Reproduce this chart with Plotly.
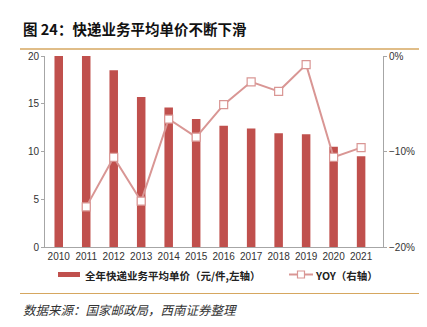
import plotly.graph_objects as go

years = ["2010", "2011", "2012", "2013", "2014", "2015", "2016", "2017", "2018", "2019", "2020", "2021"]
price = [24.6, 20.7, 18.5, 15.7, 14.6, 13.4, 12.7, 12.4, 11.9, 11.8, 10.5, 9.5]
yoy_years = years[1:]
yoy = [-15.8, -10.6, -15.2, -6.6, -8.5, -5.1, -2.7, -3.7, -0.9, -10.6, -9.6]

W, H = 427, 327
L, R, T, B = 45, 383, 56, 247
FONT = "Noto Sans CJK SC, Noto Sans, DejaVu Sans"
NUMFONT = "Liberation Sans, Arial, DejaVu Sans"
BAR_C = "#C0504D"
LINE_C = "#D99694"
GOLD = "#D6A760"


def px(x):
    return (x - L) / (R - L)


def py(y):
    return (B - y) / (B - T)


fig = go.Figure()
fig.add_trace(go.Bar(x=years, y=price, marker=dict(color=BAR_C, line=dict(width=0)),
                     showlegend=False, yaxis="y"))
fig.add_trace(go.Scatter(x=yoy_years, y=yoy, mode="lines+markers", yaxis="y2",
                         line=dict(color=LINE_C, width=2),
                         marker=dict(symbol="square", size=8, color="white",
                                     line=dict(color=LINE_C, width=1.2)),
                         showlegend=False, cliponaxis=False))

axis_common = dict(showgrid=False, zeroline=False, showline=True, linecolor="#A6A6A6",
                   linewidth=1, tickfont=dict(family=NUMFONT, size=10, color="#333"))

fig.update_layout(
    width=W, height=H,
    margin=dict(l=L, r=W - R, t=T, b=H - B, pad=0),
    paper_bgcolor="white", plot_bgcolor="white",
    bargap=0.69,
    xaxis=dict(**axis_common, ticks="", type="category"),
    yaxis=dict(**axis_common, range=[0, 20], dtick=5, ticks="outside", ticklen=3,
               tickcolor="#A6A6A6"),
    yaxis2=dict(**axis_common, range=[-20, 0], dtick=10, ticksuffix="%", overlaying="y",
                side="right", ticks="outside", ticklen=3, tickcolor="#A6A6A6"),
    font=dict(family=FONT),
)

shapes = [
    dict(type="line", xref="paper", yref="paper", x0=px(20), x1=px(419), y0=py(49), y1=py(49),
         line=dict(color=GOLD, width=1.5)),
    dict(type="line", xref="paper", yref="paper", x0=px(20), x1=px(419), y0=py(293.5), y1=py(293.5),
         line=dict(color=GOLD, width=1.2)),
    dict(type="rect", xref="paper", yref="paper", x0=px(58), x1=px(80), y0=py(277), y1=py(272),
         fillcolor=BAR_C, line=dict(width=0)),
    dict(type="line", xref="paper", yref="paper", x0=px(289), x1=px(313), y0=py(274.5), y1=py(274.5),
         line=dict(color=LINE_C, width=2)),
    dict(type="rect", xref="paper", yref="paper", x0=px(297.5), x1=px(304.5), y0=py(278), y1=py(271),
         fillcolor="white", line=dict(color=LINE_C, width=1.2)),
]
fig.update_layout(shapes=shapes)

annots = [
    dict(text="<b>图 24：快递业务平均单价不断下滑</b>", x=px(21), y=py(28.5), xanchor="left", yanchor="middle",
         font=dict(size=14.5, color="#111", family=FONT)),
    dict(text="<b>全年快递业务平均单价（元/件,左轴）</b>", x=px(83), y=py(275), xanchor="left", yanchor="middle",
         font=dict(size=10.5, color="#222", family=FONT)),
    dict(text="<b>YOY（右轴）</b>", x=px(313), y=py(275), xanchor="left", yanchor="middle",
         font=dict(size=10.5, color="#222", family=FONT)),
    dict(text="<i>数据来源：国家邮政局，西南证券整理</i>", x=px(21), y=py(309), xanchor="left", yanchor="middle",
         font=dict(size=12.5, color="#333", family=FONT)),
]
for a in annots:
    a.update(xref="paper", yref="paper", showarrow=False)
fig.update_layout(annotations=annots)

fig.write_html("out.html")
